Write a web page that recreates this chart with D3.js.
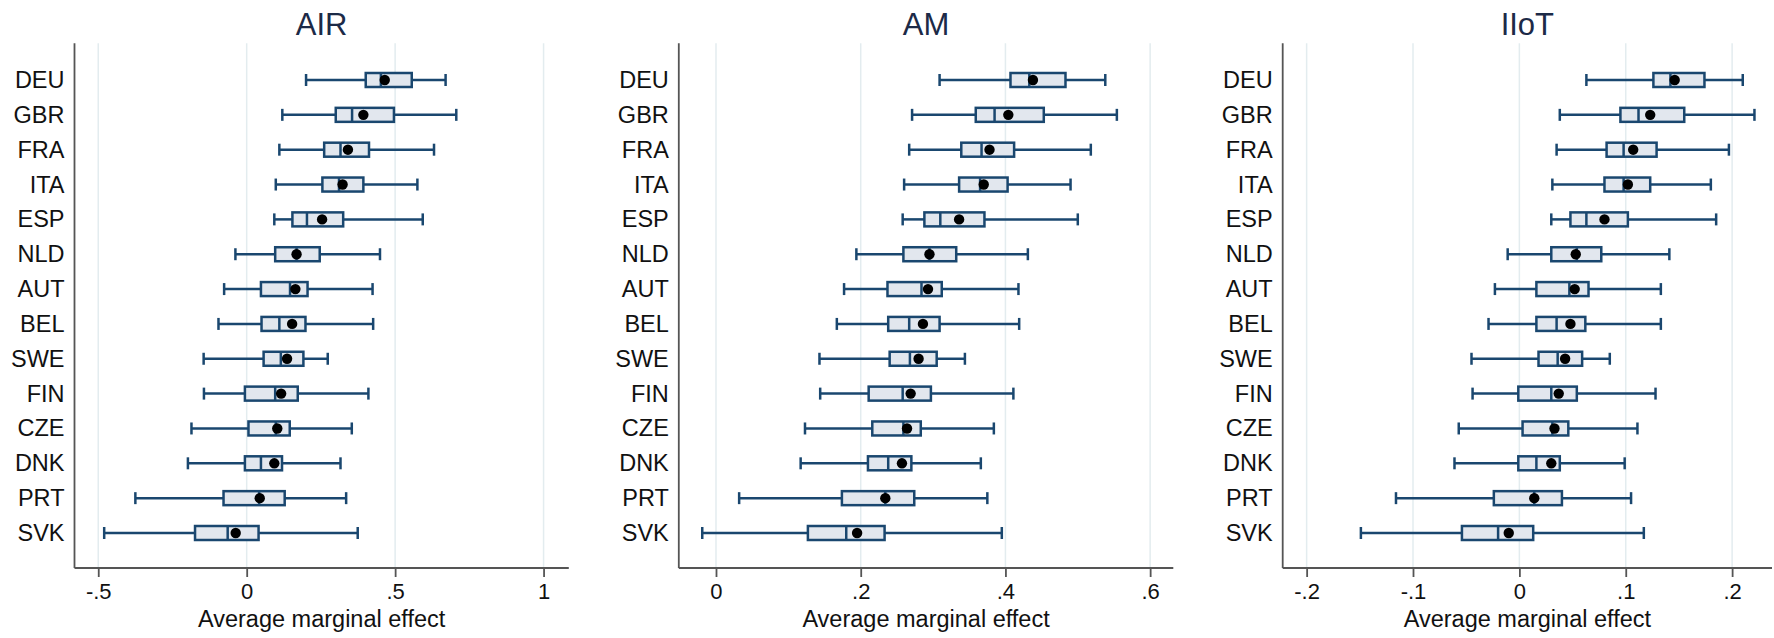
<!DOCTYPE html>
<html>
<head>
<meta charset="utf-8">
<script src="https://cdn.jsdelivr.net/npm/d3@7"></script>
<style>
  html, body { margin: 0; padding: 0; background: #ffffff; }
  svg { display: block; font-family: Arial, "Liberation Sans", sans-serif; }
</style>
</head>
<body>
<svg id="chart" width="1774" height="638"></svg>
<script>
// ---------------- data ----------------
const countries = ["DEU","GBR","FRA","ITA","ESP","NLD","AUT","BEL","SWE","FIN","CZE","DNK","PRT","SVK"];

// AIR
const airLow  = [0.200, 0.120, 0.110, 0.098, 0.093, -0.038, -0.076, -0.095, -0.145, -0.144, -0.186, -0.198, -0.375, -0.480];
const airQ1   = [0.401, 0.300, 0.261, 0.255, 0.154, 0.096, 0.048, 0.050, 0.057, -0.006, 0.006, -0.006, -0.078, -0.174];
const airMed  = [0.452, 0.355, 0.316, 0.311, 0.203, 0.168, 0.146, 0.110, 0.115, 0.096, 0.098, 0.048, 0.042, -0.064];
const airQ3   = [0.556, 0.496, 0.412, 0.393, 0.325, 0.246, 0.205, 0.198, 0.191, 0.172, 0.145, 0.119, 0.128, 0.040];
const airHigh = [0.670, 0.706, 0.631, 0.575, 0.593, 0.449, 0.424, 0.426, 0.273, 0.410, 0.354, 0.316, 0.335, 0.374];
const airMean = [0.465, 0.393, 0.341, 0.323, 0.254, 0.168, 0.164, 0.153, 0.136, 0.116, 0.103, 0.093, 0.044, -0.037];

// AM
const amLow  = [0.309, 0.271, 0.267, 0.260, 0.258, 0.194, 0.177, 0.167, 0.143, 0.144, 0.123, 0.117, 0.032, -0.019];
const amQ1   = [0.407, 0.359, 0.339, 0.336, 0.288, 0.259, 0.237, 0.238, 0.240, 0.211, 0.216, 0.210, 0.174, 0.127];
const amMed  = [0.433, 0.385, 0.367, 0.365, 0.310, 0.295, 0.284, 0.267, 0.268, 0.258, 0.259, 0.238, 0.234, 0.180];
const amQ3   = [0.483, 0.453, 0.412, 0.403, 0.371, 0.332, 0.312, 0.309, 0.305, 0.297, 0.283, 0.270, 0.274, 0.233];
const amHigh = [0.538, 0.554, 0.518, 0.490, 0.500, 0.431, 0.418, 0.419, 0.344, 0.411, 0.384, 0.366, 0.375, 0.395];
const amMean = [0.438, 0.404, 0.378, 0.370, 0.336, 0.295, 0.293, 0.286, 0.280, 0.269, 0.264, 0.257, 0.234, 0.195];

// IIoT
const iiotLow  = [0.063, 0.038, 0.035, 0.031, 0.030, -0.011, -0.023, -0.029, -0.045, -0.044, -0.057, -0.061, -0.116, -0.149];
const iiotQ1   = [0.126, 0.095, 0.082, 0.080, 0.048, 0.030, 0.016, 0.016, 0.018, -0.001, 0.003, -0.001, -0.024, -0.054];
const iiotMed  = [0.142, 0.112, 0.098, 0.098, 0.063, 0.054, 0.047, 0.035, 0.036, 0.030, 0.031, 0.016, 0.014, -0.020];
const iiotQ3   = [0.174, 0.155, 0.129, 0.123, 0.102, 0.077, 0.065, 0.062, 0.059, 0.054, 0.046, 0.038, 0.040, 0.013];
const iiotHigh = [0.210, 0.221, 0.197, 0.180, 0.185, 0.141, 0.133, 0.133, 0.085, 0.128, 0.111, 0.099, 0.105, 0.117];
const iiotMean = [0.146, 0.123, 0.107, 0.102, 0.080, 0.053, 0.052, 0.048, 0.043, 0.037, 0.033, 0.030, 0.014, -0.010];

// tick values and labels
const airTickValues  = [-0.5, 0, 0.5, 1];
const airTickLabels  = ["-.5", "0", ".5", "1"];
const amTickValues   = [0, 0.2, 0.4, 0.6];
const amTickLabels   = ["0", ".2", ".4", ".6"];
const iiotTickValues = [-0.2, -0.1, 0, 0.1, 0.2];
const iiotTickLabels = ["-.2", "-.1", "0", ".1", ".2"];

const panelTitles = ["AIR", "AM", "IIoT"];
const xAxisTitle = "Average marginal effect";

// ---------------- layout ----------------
const panels = [
  { title: panelTitles[0], low: airLow, q1: airQ1, med: airMed, q3: airQ3, high: airHigh, mean: airMean,
    ticks: airTickValues, tickLabels: airTickLabels, domain: [-0.58, 1.085], range: [74.5, 568.8] },
  { title: panelTitles[1], low: amLow, q1: amQ1, med: amMed, q3: amQ3, high: amHigh, mean: amMean,
    ticks: amTickValues, tickLabels: amTickLabels, domain: [-0.0514, 0.632], range: [678.8, 1173.3] },
  { title: panelTitles[2], low: iiotLow, q1: iiotQ1, med: iiotMed, q3: iiotQ3, high: iiotHigh, mean: iiotMean,
    ticks: iiotTickValues, tickLabels: iiotTickLabels, domain: [-0.2225, 0.2375], range: [1282.7, 1772] }
];

const plotTop = 43.3, plotBottom = 568;
const boxColor = "#1a476f", boxFill = "#e2e7ee", gridColor = "#e3ecef", axisColor = "#555555";
const boxH = 14, capH = 12, lw = 2.5;

const svg = d3.select("#chart");

const y = d3.scalePoint().domain(countries).range([80, 533]);

panels.forEach(p => {
  const x = d3.scaleLinear().domain(p.domain).range(p.range);
  const g = svg.append("g");
  const cx = (p.range[0] + p.range[1]) / 2;

  // gridlines
  g.selectAll("line.grid").data(p.ticks).enter().append("line")
    .attr("x1", d => x(d)).attr("x2", d => x(d))
    .attr("y1", plotTop).attr("y2", plotBottom)
    .attr("stroke", gridColor).attr("stroke-width", 1.5);

  // x axis
  const xAxis = d3.axisBottom(x).tickValues(p.ticks)
    .tickFormat((d, i) => p.tickLabels[i]).tickSize(9).tickSizeOuter(0).tickPadding(6);
  const ax = g.append("g").attr("transform", `translate(0,${plotBottom})`).call(xAxis);
  ax.select(".domain").attr("stroke", axisColor).attr("stroke-width", 1.8)
    .attr("d", `M${p.range[0]},0H${p.range[1]}`);
  ax.selectAll(".tick line").attr("stroke", axisColor).attr("stroke-width", 1.8);
  ax.selectAll(".tick text").attr("font-size", 22).attr("fill", "#111").attr("font-family", "Arial, 'Liberation Sans', sans-serif");

  // y axis
  const yAxis = d3.axisLeft(y).tickSize(0).tickPadding(10);
  const ay = g.append("g").attr("transform", `translate(${p.range[0]},0)`).call(yAxis);
  ay.select(".domain").attr("stroke", axisColor).attr("stroke-width", 1.8)
    .attr("d", `M0,${plotTop}V${plotBottom}`);
  ay.selectAll(".tick text").attr("font-size", 23.5).attr("fill", "#111").attr("font-family", "Arial, 'Liberation Sans', sans-serif");

  // titles
  g.append("text").attr("x", cx).attr("y", 34.5).attr("text-anchor", "middle")
    .attr("font-size", 31).attr("fill", "#1c2a47").text(p.title);
  g.append("text").attr("x", cx).attr("y", 627).attr("text-anchor", "middle")
    .attr("font-size", 23.5).attr("fill", "#111").text(xAxisTitle);

  const rows = countries.map((c, i) => ({ c, low: p.low[i], q1: p.q1[i], med: p.med[i], q3: p.q3[i], high: p.high[i], mean: p.mean[i] }));
  const rg = g.selectAll("g.row").data(rows).enter().append("g");

  // whiskers
  rg.append("line").attr("x1", d => x(d.low)).attr("x2", d => x(d.q1))
    .attr("y1", d => y(d.c)).attr("y2", d => y(d.c)).attr("stroke", boxColor).attr("stroke-width", lw);
  rg.append("line").attr("x1", d => x(d.q3)).attr("x2", d => x(d.high))
    .attr("y1", d => y(d.c)).attr("y2", d => y(d.c)).attr("stroke", boxColor).attr("stroke-width", lw);
  rg.append("line").attr("x1", d => x(d.low)).attr("x2", d => x(d.low))
    .attr("y1", d => y(d.c) - capH / 2).attr("y2", d => y(d.c) + capH / 2).attr("stroke", boxColor).attr("stroke-width", lw);
  rg.append("line").attr("x1", d => x(d.high)).attr("x2", d => x(d.high))
    .attr("y1", d => y(d.c) - capH / 2).attr("y2", d => y(d.c) + capH / 2).attr("stroke", boxColor).attr("stroke-width", lw);

  // box
  rg.append("rect").attr("x", d => x(d.q1)).attr("width", d => x(d.q3) - x(d.q1))
    .attr("y", d => y(d.c) - boxH / 2).attr("height", boxH)
    .attr("fill", boxFill).attr("stroke", boxColor).attr("stroke-width", lw);
  // median
  rg.append("line").attr("x1", d => x(d.med)).attr("x2", d => x(d.med))
    .attr("y1", d => y(d.c) - boxH / 2).attr("y2", d => y(d.c) + boxH / 2)
    .attr("stroke", boxColor).attr("stroke-width", lw);
  // mean dot
  rg.append("circle").attr("cx", d => x(d.mean)).attr("cy", d => y(d.c)).attr("r", 5.2).attr("fill", "#000");
});
</script>
</body>
</html>
